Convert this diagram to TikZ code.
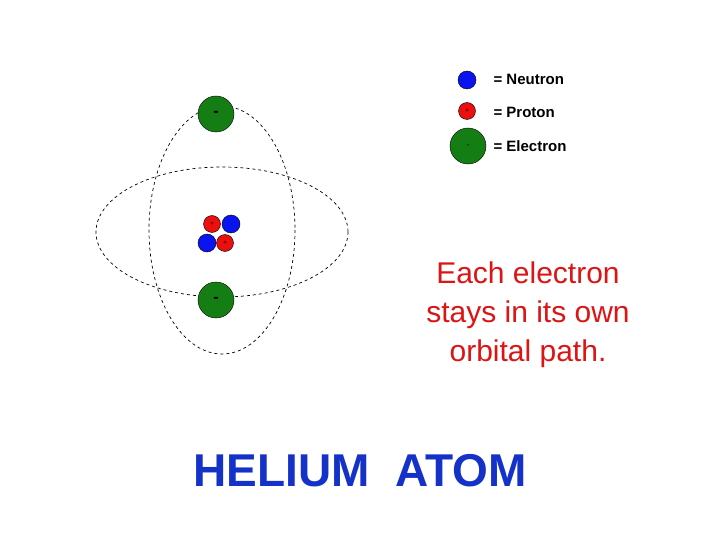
\documentclass[tikz,border=0pt]{standalone}
\usepackage{fontspec}
\setmainfont{Liberation Sans}
\definecolor{eg}{RGB}{20,125,20}
\definecolor{nb}{RGB}{10,20,240}
\definecolor{pr}{RGB}{235,15,15}
\definecolor{tr}{RGB}{220,20,20}
\definecolor{hb}{RGB}{20,50,200}
\begin{document}
\begin{tikzpicture}[x=1pt,y=-1pt,
  orbit/.style={draw,dashed,line width=0.7pt},
  elec/.style={circle,draw,fill=eg,minimum size=36pt,inner sep=0pt,font=\bfseries\fontsize{16}{16}\selectfont},
  neu/.style={circle,draw,fill=nb,minimum size=18pt,inner sep=0pt},
  pro/.style={circle,draw,fill=pr,minimum size=17pt,inner sep=0pt,font=\fontsize{6}{6}\selectfont},
  leg/.style={anchor=west,font=\bfseries\fontsize{15}{15}\selectfont}]
\useasboundingbox (0,0) rectangle (720,540);
\draw[orbit] (222,230) ellipse [x radius=73,y radius=124];
\draw[orbit] (222,232) ellipse [x radius=126,y radius=65];
\node[elec] (e1) at (216,114) {-};
\node[elec] (e2) at (216,300) {-};
\node[pro] (p1) at (212,224) {+};
\node[neu] (n1) at (231,224) {};
\node[neu] (n2) at (207,243) {};
\node[pro] (p2) at (225,243) {+};
\node[neu] (ln) at (467,80) {};
\node[pro] (lp) at (467,111) {+};
\node[elec,font=\fontsize{8}{8}\selectfont] (le) at (468,146) {-};
\node[leg] (tn) at (490,79) {= Neutron};
\node[leg] (tp) at (490,112) {= Proton};
\node[leg] (te) at (490,146) {= Electron};
\node[text=tr,align=center,font=\fontsize{30}{39}\selectfont] (msg) at (528,315) {Each electron\\stays in its own\\orbital path.};
\node[text=hb,font=\bfseries\fontsize{46}{46}\selectfont] (title) at (360,471) {HELIUM\ \ ATOM};
\end{tikzpicture}
\end{document}
